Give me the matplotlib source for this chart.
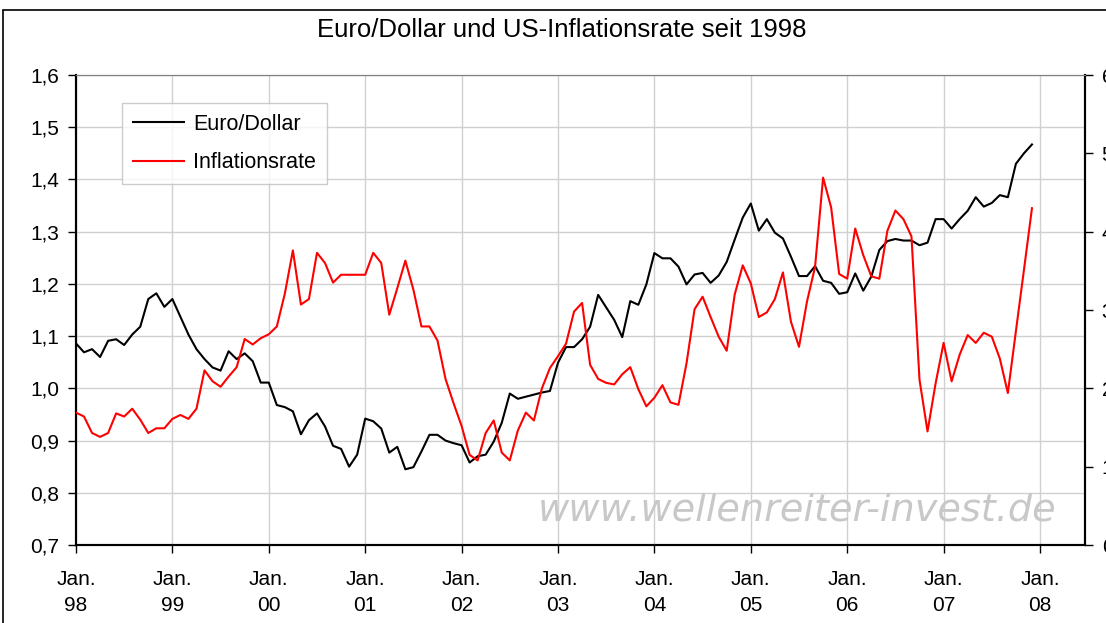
import numpy as np
import matplotlib.pyplot as plt
from matplotlib.patches import Rectangle

# monthly values, Jan 1998 .. Dec 2007
eur_usd = [
    1.086, 1.069, 1.075, 1.060, 1.091, 1.094, 1.083, 1.103, 1.118, 1.171, 1.182, 1.156,
    1.171, 1.137, 1.103, 1.075, 1.056, 1.040, 1.034, 1.071, 1.056, 1.067, 1.052, 1.011,
    1.011, 0.968, 0.964, 0.956, 0.912, 0.939, 0.952, 0.927, 0.890, 0.884, 0.850, 0.873,
    0.942, 0.937, 0.923, 0.877, 0.888, 0.845, 0.849, 0.879, 0.911, 0.911, 0.900, 0.895,
    0.891, 0.858, 0.870, 0.873, 0.898, 0.934, 0.990, 0.980, 0.984, 0.988, 0.992, 0.995,
    1.049, 1.079, 1.079, 1.094, 1.118, 1.179, 1.155, 1.131, 1.098, 1.167, 1.160, 1.199,
    1.259, 1.249, 1.249, 1.233, 1.199, 1.218, 1.221, 1.202, 1.216, 1.242, 1.285, 1.327,
    1.354, 1.302, 1.324, 1.298, 1.287, 1.252, 1.215, 1.215, 1.234, 1.206, 1.202, 1.181,
    1.184, 1.220, 1.187, 1.214, 1.265, 1.282, 1.286, 1.283, 1.283, 1.274, 1.279, 1.324,
    1.324, 1.306, 1.324, 1.340, 1.366, 1.348, 1.355, 1.370, 1.366, 1.430, 1.450, 1.467,
]
inflation = [
    1.69, 1.64, 1.43, 1.38, 1.43, 1.68, 1.64, 1.74, 1.60, 1.43, 1.49, 1.49,
    1.61, 1.66, 1.61, 1.74, 2.23, 2.09, 2.02, 2.15, 2.27, 2.63, 2.56, 2.64,
    2.69, 2.79, 3.21, 3.76, 3.07, 3.14, 3.73, 3.60, 3.35, 3.45, 3.45, 3.45,
    3.45, 3.73, 3.60, 2.94, 3.28, 3.63, 3.26, 2.79, 2.79, 2.61, 2.12, 1.81,
    1.52, 1.15, 1.08, 1.43, 1.59, 1.18, 1.08, 1.46, 1.69, 1.59, 2.00, 2.26,
    2.41, 2.57, 2.98, 3.09, 2.30, 2.12, 2.07, 2.05, 2.18, 2.27, 1.99, 1.77,
    1.88, 2.04, 1.82, 1.79, 2.32, 3.01, 3.17, 2.91, 2.66, 2.48, 3.20, 3.57,
    3.34, 2.91, 2.97, 3.14, 3.48, 2.85, 2.53, 3.11, 3.55, 4.69, 4.31, 3.46,
    3.40, 4.04, 3.70, 3.43, 3.40, 4.01, 4.27, 4.16, 3.94, 2.11, 1.45, 2.06,
    2.58, 2.09, 2.43, 2.68, 2.58, 2.71, 2.66, 2.38, 1.94, 2.73, 3.51, 4.30,
]
year_labels = ["98", "99", "00", "01", "02", "03", "04", "05", "06", "07", "08"]
left_ticks = [0.7, 0.8, 0.9, 1.0, 1.1, 1.2, 1.3, 1.4, 1.5, 1.6]
left_labels = ["0,7", "0,8", "0,9", "1,0", "1,1", "1,2", "1,3", "1,4", "1,5", "1,6"]
right_ticks = [0, 1, 2, 3, 4, 5, 6]

plt.rcParams["font.family"] = ["Liberation Sans", "DejaVu Sans"]

months = np.arange(len(eur_usd))

fig = plt.figure(figsize=(11.06, 6.23), dpi=100)
ax = fig.add_axes([0.0687, 0.1252, 0.9123, 0.7544])
ax2 = ax.twinx()

# chart area frame (right/bottom edges fall outside the image)
fig.patches.append(Rectangle((3 / 1106, -0.1), 1.2, (623 - 10) / 623 + 0.1,
                             transform=fig.transFigure, fill=False,
                             edgecolor="black", linewidth=1.2))

l1, = ax.plot(months, eur_usd, color="black", lw=1.5, label="Euro/Dollar", zorder=3)
l2, = ax2.plot(months, inflation, color="#ff0000", lw=1.5, label="Inflationsrate", zorder=3)

ax.set_xlim(0, 125.6)
ax.set_ylim(0.7, 1.6)
ax2.set_ylim(0, 6)

year_pos = np.arange(len(year_labels)) * 12
ax.set_xticks(year_pos)
ax.set_xticklabels(["Jan.\n" + y for y in year_labels], linespacing=1.45)
ax.set_yticks(left_ticks)
ax.set_yticklabels(left_labels)
ax2.set_yticks(right_ticks)
ax2.set_yticklabels([str(t) for t in right_ticks])

ax.grid(True, color="#d0d0d0", lw=1)
ax.set_axisbelow(True)

ax.tick_params(axis="x", direction="out", length=6, width=1, pad=12, labelsize=15)
ax.tick_params(axis="y", direction="out", length=6, width=1, pad=6, labelsize=15)
ax2.tick_params(axis="y", direction="out", length=6, width=1, pad=6, labelsize=15)

for a in (ax, ax2):
    a.spines["top"].set_color("#808080")
    for s in ("left", "right", "bottom"):
        a.spines[s].set_color("black")
        a.spines[s].set_linewidth(1.5)

# title centred on the chart area frame, not on the plot area
fig.text(562 / 1106, 1 - 30 / 623, "Euro/Dollar und US-Inflationsrate seit 1998",
         fontsize=18.5, ha="center", va="center")

leg = ax.legend(handles=[l1, l2], loc="upper left", bbox_to_anchor=(0.0456, 0.94),
                borderaxespad=0, fontsize=15.5, frameon=True, fancybox=False,
                handlelength=2.4, borderpad=0.5, labelspacing=0.8,
                handletextpad=0.4)
leg.get_frame().set_edgecolor("#c0c0c0")
leg.get_frame().set_linewidth(1)

fig.text(797 / 1106, 0.181, "www.wellenreiter-invest.de", fontsize=27.5, style="italic",
         family="DejaVu Sans", color="#c8c8c8", ha="center", va="center")

fig.savefig("out.png", dpi=100)
